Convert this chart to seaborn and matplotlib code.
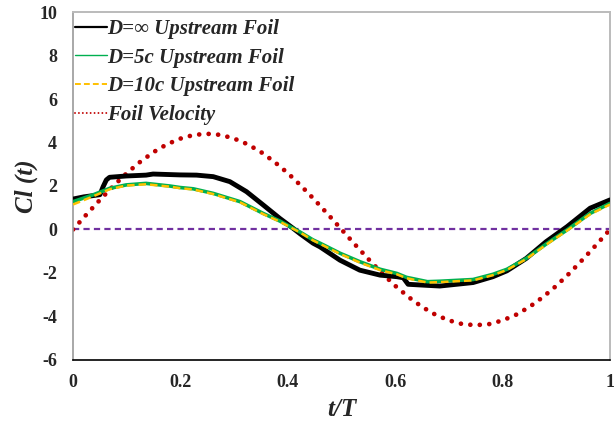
import seaborn as sns
import matplotlib.pyplot as plt

# D = infinity upstream foil
t_inf = [0.0, 0.02, 0.05, 0.056, 0.062, 0.068, 0.099, 0.136, 0.149, 0.199, 0.23, 0.261,
         0.292, 0.323, 0.354, 0.385, 0.41, 0.423, 0.447, 0.46, 0.497, 0.534, 0.572,
         0.603, 0.615, 0.624, 0.66, 0.683, 0.745, 0.782, 0.808, 0.844, 0.881, 0.92,
         0.963, 1.0]
cl_inf = [1.4, 1.5, 1.6, 1.97, 2.28, 2.4, 2.46, 2.5, 2.55, 2.51, 2.5, 2.43,
          2.2, 1.74, 1.13, 0.51, 0.05, -0.2, -0.63, -0.8, -1.41, -1.87, -2.1,
          -2.17, -2.22, -2.52, -2.57, -2.6, -2.44, -2.17, -1.9, -1.33, -0.56, 0.13,
          0.98, 1.36]

# D = 5c upstream foil
t_5c = [0.0, 0.037, 0.068, 0.099, 0.136, 0.18, 0.199, 0.224, 0.261, 0.311, 0.354, 0.385,
        0.41, 0.423, 0.447, 0.46, 0.497, 0.534, 0.572, 0.603, 0.621, 0.66, 0.683,
        0.745, 0.782, 0.808, 0.844, 0.881, 0.92, 0.963, 1.0]
cl_5c = [1.28, 1.59, 1.89, 2.05, 2.12, 2.0, 1.93, 1.87, 1.66, 1.28, 0.74, 0.39,
         0.05, -0.12, -0.48, -0.63, -1.09, -1.48, -1.83, -2.02, -2.2, -2.4, -2.38,
         -2.3, -2.06, -1.83, -1.33, -0.67, -0.02, 0.74, 1.2]

# D = 10c upstream foil
t_10c = [0.0, 0.037, 0.068, 0.099, 0.136, 0.18, 0.199, 0.224, 0.261, 0.311, 0.354, 0.385,
         0.41, 0.423, 0.447, 0.46, 0.497, 0.534, 0.572, 0.603, 0.621, 0.66, 0.683,
         0.745, 0.782, 0.808, 0.844, 0.881, 0.92, 0.963, 1.0]
cl_10c = [1.15, 1.52, 1.85, 2.02, 2.08, 1.97, 1.9, 1.84, 1.63, 1.25, 0.71, 0.36,
          0.03, -0.14, -0.5, -0.66, -1.12, -1.52, -1.87, -2.06, -2.24, -2.44, -2.42,
          -2.34, -2.1, -1.86, -1.36, -0.7, -0.05, 0.7, 1.15]

# foil velocity
t_vel = [0.0, 0.025, 0.05, 0.075, 0.1, 0.125, 0.15, 0.175, 0.2, 0.225, 0.25,
         0.275, 0.3, 0.325, 0.35, 0.375, 0.4, 0.425, 0.45, 0.475, 0.5,
         0.525, 0.55, 0.575, 0.6, 0.625, 0.65, 0.675, 0.7, 0.725, 0.75,
         0.775, 0.8, 0.825, 0.85, 0.875, 0.9, 0.925, 0.95, 0.975, 1.0]
vel = [0.0, 0.69, 1.36, 2.0, 2.59, 3.11, 3.56, 3.92, 4.18, 4.35, 4.4,
       4.35, 4.18, 3.92, 3.56, 3.11, 2.59, 2.0, 1.36, 0.69, 0.0,
       -0.69, -1.36, -2.0, -2.59, -3.11, -3.56, -3.92, -4.18, -4.35, -4.4,
       -4.35, -4.18, -3.92, -3.56, -3.11, -2.59, -2.0, -1.36, -0.69, 0.0]

x_ticks = [0, 0.2, 0.4, 0.6, 0.8, 1.0]
x_tick_labels = ['0', '0.2', '0.4', '0.6', '0.8', '1']
y_ticks = [-6, -4, -2, 0, 2, 4, 6, 8, 10]

sns.set_style('white')
plt.rcParams['font.family'] = ['Liberation Serif', 'DejaVu Serif']
plt.rcParams['axes.unicode_minus'] = False

fig, ax = plt.subplots(figsize=(6.14, 4.23), dpi=100)
fig.subplots_adjust(left=0.119, right=0.9935, bottom=0.149, top=0.9716)

ax.axhline(0, color='#7030A0', lw=1.6, dashes=(2.8, 1.9), zorder=1)

sns.lineplot(x=t_inf, y=cl_inf, ax=ax, color='black', lw=3.5,
             label='D=\u221e Upstream Foil', zorder=3)
sns.lineplot(x=t_5c, y=cl_5c, ax=ax, color='#00B050', lw=2.6,
             label='D=5c Upstream Foil', zorder=4)
sns.lineplot(x=t_10c, y=cl_10c, ax=ax, color='#FFC000', lw=1.8,
             label='D=10c Upstream Foil', zorder=5)
ax.lines[-1].set_dashes((3.0, 1.6))
sns.lineplot(x=t_vel, y=vel, ax=ax, color='#C00000', lw=3.4,
             label='Foil Velocity', zorder=2)
ax.lines[-1].set_dashes((0.01, 2.0))
ax.lines[-1].set_dash_capstyle('round')

ax.set_xlim(0, 1)
ax.set_ylim(-6, 10)
ax.set_xticks(x_ticks)
ax.set_xticklabels(x_tick_labels)
ax.set_yticks(y_ticks)
ax.tick_params(direction='in', length=4, width=1, color='#999999', labelsize=13)
ax.tick_params(axis='x', pad=10)
ax.tick_params(axis='y', pad=11.5)
for lab in ax.get_xticklabels() + ax.get_yticklabels():
    lab.set_fontweight('bold')

ax.set_xlabel('t/T', fontsize=18, fontweight='bold', style='italic', labelpad=5)
ax.set_ylabel('Cl (t)', fontsize=18, fontweight='bold', style='italic', labelpad=1)

ax.spines['left'].set_color('#999999')
ax.spines['left'].set_linewidth(1.2)
ax.spines['bottom'].set_color('black')
ax.spines['bottom'].set_linewidth(1.2)
for s in ['top', 'right']:
    ax.spines[s].set_color('#BBBBBB')
    ax.spines[s].set_linewidth(1.4)

leg = ax.legend(loc='upper left', bbox_to_anchor=(0.0, 0.986), frameon=False,
                handlelength=1.55, handletextpad=0.0, labelspacing=0.42,
                borderaxespad=0.0, borderpad=0.1,
                prop={'weight': 'bold', 'style': 'italic', 'size': 15})
widths = [1.6, 1.0, 1.4, 1.4]
for line, w in zip(leg.get_lines(), widths):
    line.set_linewidth(w)

fig.savefig('out.png', dpi=100)
